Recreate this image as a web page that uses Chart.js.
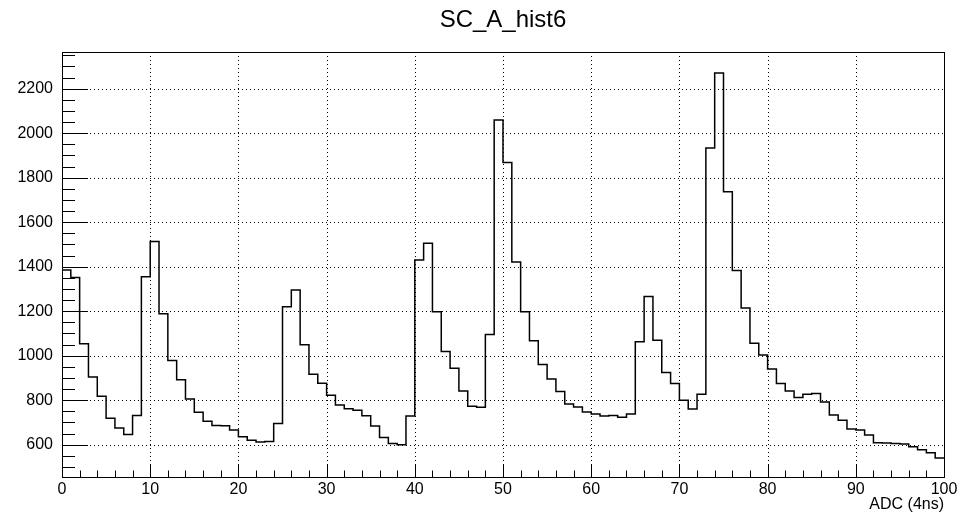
<!DOCTYPE html>
<html>
<head>
<meta charset="utf-8">
<title>SC_A_hist6</title>
<script src="https://cdn.jsdelivr.net/npm/chart.js@4.4.1/dist/chart.umd.min.js"></script>
<style>
  html, body { margin: 0; padding: 0; background: #fff; }
  #histChart { display: block; }
</style>
</head>
<body>
<canvas id="histChart" width="974" height="516"></canvas>
<script>
// histogram contents, one value per 1-unit bin from 0 to 100
const counts = [
  1385, 1352, 1054, 904, 818, 719, 675, 646, 731, 1355,
  1513, 1189, 979, 892, 806, 746, 705, 686, 685, 666,
  636, 620, 612, 615, 695, 1220, 1295, 1049, 917, 876,
  822, 779, 762, 755, 730, 684, 632, 606, 600, 729,
  1430, 1505, 1198, 1019, 944, 842, 773, 768, 1095, 2059,
  1868, 1421, 1198, 1067, 961, 895, 839, 783, 770, 747,
  738, 729, 731, 723, 738, 1063, 1266, 1070, 925, 875,
  800, 761, 827, 1934, 2271, 1737, 1383, 1215, 1056, 1003,
  940, 875, 842, 812, 827, 830, 792, 734, 710, 671,
  666, 644, 609, 608, 606, 603, 591, 578, 564, 540
];

const xTicks = [0, 10, 20, 30, 40, 50, 60, 70, 80, 90, 100];
const yTicks = [600, 800, 1000, 1200, 1400, 1600, 1800, 2000, 2200];

const xRange = [0, 100];
const yRange = [455, 2365];

const histTitle = "SC_A_hist6";
const FONT = "'Liberation Sans', Arial, Helvetica, sans-serif";

// left bin edge for each bin, plus closing point at the last edge
const points = counts.map((v, i) => ({ x: i, y: v }));
points.push({ x: counts.length, y: counts[counts.length - 1] });


// ROOT style frame: dotted grid, inside ticks, solid box, pad title
const rootFrame = {
    id: "rootFrame",
    beforeDatasetsDraw(chart) {
        const { ctx, chartArea: a, scales: { x, y } } = chart;
        ctx.save();
        ctx.strokeStyle = "#000";
        ctx.lineWidth = 1;
        ctx.setLineDash([1, 3]);
        ctx.beginPath();
        xTicks.forEach((v) => {
            const px = Math.round(x.getPixelForValue(v)) + 0.5;
            ctx.moveTo(px, a.top);
            ctx.lineTo(px, a.bottom);
        });
        yTicks.forEach((v) => {
            const py = Math.round(y.getPixelForValue(v)) + 0.5;
            ctx.moveTo(a.left, py);
            ctx.lineTo(a.right, py);
        });
        ctx.stroke();
        ctx.restore();
    },
    afterDatasetsDraw(chart) {
        const { ctx, chartArea: a, scales: { x, y } } = chart;
        ctx.save();
        ctx.strokeStyle = "#000";
        ctx.lineWidth = 1;
        ctx.beginPath();

        // x ticks, every 2 units, long on labelled values
        for (let v = xRange[0]; v <= xRange[1]; v += 2) {
            const px = Math.round(x.getPixelForValue(v)) + 0.5;
            const len = xTicks.includes(v) ? 13 : 6.5;
            ctx.moveTo(px, a.bottom);
            ctx.lineTo(px, a.bottom - len);
        }

        // y ticks, every 50 units
        for (let v = Math.ceil(yRange[0] / 50) * 50; v <= yRange[1]; v += 50) {
            const py = Math.round(y.getPixelForValue(v)) + 0.5;
            const len = yTicks.includes(v) ? 26 : 13;
            ctx.moveTo(a.left, py);
            ctx.lineTo(a.left + len, py);
        }
        ctx.stroke();

        ctx.strokeRect(Math.round(a.left) + 0.5, Math.round(a.top) + 0.5,
            Math.round(a.right - a.left), Math.round(a.bottom - a.top));

        // title sits a bit right of the pad centre, as in the ROOT canvas
        ctx.fillStyle = "#000";
        ctx.font = "24px " + FONT;
        ctx.textAlign = "center";
        ctx.textBaseline = "alphabetic";
        ctx.fillText(histTitle, 503, 27);
        ctx.restore();
    }
};


new Chart(document.getElementById("histChart"), {

    type: "line",

    data: {
        datasets: [{
            label: histTitle,
            data: points,
            stepped: true,
            borderColor: "#000",
            borderWidth: 1.5,
            pointRadius: 0,
            fill: false,
            tension: 0
        }]
    },

    options: {
        responsive: false,
        animation: false,
        devicePixelRatio: 1,
        layout: { padding: { left: 0, right: 30, top: 52, bottom: 0 } },
        plugins: {
            legend: { display: false },
            tooltip: { enabled: false },
            title: { display: false }
        },
        scales: {
            x: {
                type: "linear",
                min: xRange[0],
                max: xRange[1],
                afterBuildTicks: (axis) => { axis.ticks = xTicks.map((v) => ({ value: v })); },
                afterFit: (axis) => { axis.height = 39; },
                grid: { display: false, drawTicks: false },
                border: { display: false },
                ticks: {
                    color: "#000",
                    font: { family: FONT, size: 16 },
                    padding: 3,
                    maxRotation: 0,
                    autoSkip: false,
                    callback: (v) => String(v)
                },
                title: {
                    display: true,
                    text: "ADC (4ns)",
                    align: "end",
                    color: "#000",
                    font: { family: FONT, size: 16 },
                    padding: { top: 0, bottom: 2 }
                }
            },
            y: {
                type: "linear",
                min: yRange[0],
                max: yRange[1],
                afterBuildTicks: (axis) => { axis.ticks = yTicks.map((v) => ({ value: v })); },
                afterFit: (axis) => { axis.width = 62; },
                grid: { display: false, drawTicks: false },
                border: { display: false },
                ticks: {
                    color: "#000",
                    font: { family: FONT, size: 16 },
                    padding: 9,
                    callback: (v) => String(v)
                }
            }
        }
    },

    plugins: [rootFrame]

});
</script>
</body>
</html>
